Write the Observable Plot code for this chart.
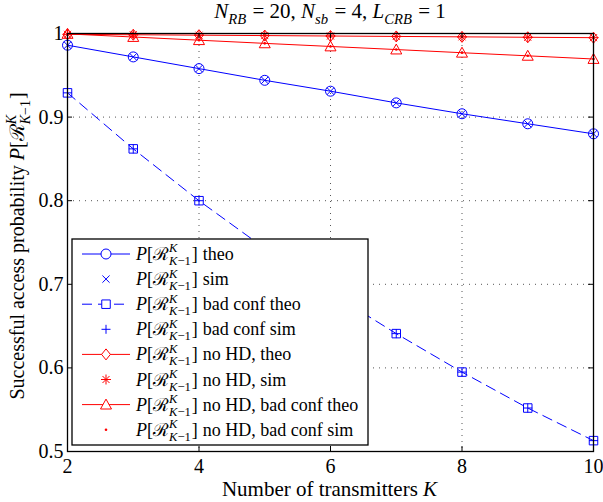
<!DOCTYPE html>
<html><head><meta charset="utf-8">
<script src="https://cdn.jsdelivr.net/npm/d3@7"></script>
<script src="https://cdn.jsdelivr.net/npm/@observablehq/plot@0.6"></script>
<style>
html,body{margin:0;padding:0;background:#fff;}
#chart{position:relative;width:603px;height:502px;overflow:hidden;}
</style></head><body><div id="chart"></div>
<script>
// ---- data ----
const K = [2, 3, 4, 5, 6, 7, 8, 9, 10];
const theo        = [0.986, 0.972, 0.958, 0.944, 0.931, 0.917, 0.904, 0.892, 0.880];
const sim         = [0.986, 0.972, 0.958, 0.944, 0.931, 0.917, 0.904, 0.892, 0.880];
const badTheo     = [0.929, 0.862, 0.800, 0.743, 0.690, 0.641, 0.595, 0.552, 0.513];
const badSim      = [0.929, 0.862, 0.800, 0.743, 0.690, 0.641, 0.595, 0.552, 0.513];
const noHdTheo    = [0.999, 0.9985, 0.998, 0.9975, 0.997, 0.9965, 0.996, 0.9955, 0.995];
const noHdSim     = [0.999, 0.9985, 0.998, 0.9975, 0.997, 0.9965, 0.996, 0.9955, 0.995];
const noHdBadTheo = [0.9995, 0.9958, 0.992, 0.9882, 0.9845, 0.9808, 0.977, 0.9733, 0.9695];
const noHdBadSim  = [0.9995, 0.9958, 0.992, 0.9882, 0.9845, 0.9808, 0.977, 0.9733, 0.9695];
const legendLabels = ["theo", "sim", "bad conf theo", "bad conf sim", "no HD, theo", "no HD, sim", "no HD, bad conf theo", "no HD, bad conf sim"];
const xTicks = [2, 4, 6, 8, 10];
const yTicks = [0.5, 0.6, 0.7, 0.8, 0.9, 1];
const xGrid = [4, 6, 8];
const yGrid = [0.6, 0.7, 0.8, 0.9];

// ---- styling ----
const FONT = "'Liberation Serif', 'Times New Roman', serif";
const BLUE = "#0000ff", RED = "#ff0000";
const W = 603, H = 502, ML = 67, MR = 10, MT = 33, MB = 51;
const innerW = W - ML - MR, innerH = H - MT - MB;

function sym(fn) { return {draw(ctx, size) { const r = Math.sqrt(size / Math.PI); fn(ctx, r); }}; }
const symCircle = sym((c, r) => { c.moveTo(r, 0); c.arc(0, 0, r, 0, 2 * Math.PI); });
const symTimes = sym((c, r) => { const a = r * 0.72; c.moveTo(-a, -a); c.lineTo(a, a); c.moveTo(-a, a); c.lineTo(a, -a); });
const symSquare = sym((c, r) => { const a = r * 0.85; c.moveTo(-a, -a); c.lineTo(a, -a); c.lineTo(a, a); c.lineTo(-a, a); c.closePath(); });
const symPlus = sym((c, r) => { const a = r * 0.9; c.moveTo(-a, 0); c.lineTo(a, 0); c.moveTo(0, -a); c.lineTo(0, a); });
const symDiamond = sym((c, r) => { c.moveTo(0, -r); c.lineTo(r * 0.8, 0); c.lineTo(0, r); c.lineTo(-r * 0.8, 0); c.closePath(); });
const symAst = sym((c, r) => { const a = r * 0.7; c.moveTo(-r, 0); c.lineTo(r, 0); c.moveTo(0, -r); c.lineTo(0, r); c.moveTo(-a, -a); c.lineTo(a, a); c.moveTo(-a, a); c.lineTo(a, -a); });
const symTri = sym((c, r) => { c.moveTo(0, -r); c.lineTo(r, r * 0.8); c.lineTo(-r, r * 0.8); c.closePath(); });

const series = [
  {values: theo,        stroke: BLUE, line: true,  dash: null,   symbol: symCircle,  r: 5},
  {values: sim,         stroke: BLUE, line: false,               symbol: symTimes,   r: 5},
  {values: badTheo,     stroke: BLUE, line: true,  dash: "10,6", symbol: symSquare,  r: 5},
  {values: badSim,      stroke: BLUE, line: false,               symbol: symPlus,    r: 5},
  {values: noHdTheo,    stroke: RED,  line: true,  dash: null,   symbol: symDiamond, r: 5.5},
  {values: noHdSim,     stroke: RED,  line: false,               symbol: symAst,     r: 5},
  {values: noHdBadTheo, stroke: RED,  line: true,  dash: null,   symbol: symTri,     r: 5.5},
  {values: noHdBadSim,  stroke: RED,  line: false,               symbol: symCircle,  r: 1.3, filled: true}
];
series.forEach((s, i) => { s.label = legendLabels[i]; s.rows = K.map((k, j) => ({k, y: s.values[j]})); });

const marks = [
  Plot.ruleX(xGrid, {x: d => d, stroke: "#555", strokeDasharray: "1,5"}),
  Plot.ruleY(yGrid, {y: d => d, stroke: "#555", strokeDasharray: "1,5"}),
];
for (const s of series) if (s.line)
  marks.push(Plot.line(s.rows, {x: "k", y: "y", stroke: s.stroke, strokeWidth: 1, strokeDasharray: s.dash}));
for (const s of series)
  marks.push(Plot.dot(s.rows, {x: "k", y: "y", symbol: s.symbol, r: s.r,
    stroke: s.filled ? "none" : s.stroke, fill: s.filled ? s.stroke : "none", strokeWidth: 1}));
marks.push(
  Plot.tickX(xTicks, {x: d => d, insetTop: innerH - 5, stroke: "black"}),
  Plot.tickX(xTicks, {x: d => d, insetBottom: innerH - 5, stroke: "black"}),
  Plot.tickY(yTicks, {y: d => d, insetRight: innerW - 5, stroke: "black"}),
  Plot.tickY(yTicks, {y: d => d, insetLeft: innerW - 5, stroke: "black"}),
  Plot.frame({stroke: "black", strokeWidth: 1.3}),
  Plot.axisX({ticks: xTicks, tickSize: 0, tickPadding: 7, fontSize: 20, tickFormat: d => String(d), label: null}),
  Plot.axisY({ticks: yTicks, tickSize: 0, tickPadding: 4, fontSize: 20, tickFormat: d => d === 1 ? "1" : d.toFixed(1), label: null})
);

const chart = Plot.plot({
  width: W, height: H, marginLeft: ML, marginRight: MR, marginTop: MT, marginBottom: MB,
  x: {domain: [2, 10], label: null},
  y: {domain: [0.5, 1], label: null},
  style: {fontFamily: FONT, background: "white", color: "black"},
  marks
});
document.getElementById("chart").appendChild(chart);

// ---- rich text helper: one <text> per label, math parts as tspans ----
const svg = d3.select(chart);
function measure(g, str, size, italic) {
  const t = g.append("text").attr("font-size", size).attr("font-family", FONT)
    .attr("text-anchor", "start").style("white-space", "pre");
  if (italic) t.attr("font-style", "italic");
  t.text(str);
  const w = t.node().getComputedTextLength();
  t.remove();
  return w;
}
function mt(g, x, y, toks, fs) {
  const text = g.append("text").attr("x", x).attr("y", y).attr("font-size", fs)
    .attr("font-family", FONT).attr("fill", "black").attr("text-anchor", "start")
    .style("white-space", "pre");
  let shift = 0, pendingDx = 0;
  const span = (str, size, italic, target, dx) => {
    const ts = text.append("tspan").attr("font-size", size).text(str);
    if (italic) ts.attr("font-style", "italic");
    const dy = target - shift;
    if (dy) ts.attr("dy", dy);
    shift = target;
    const d = (dx || 0) + pendingDx;
    if (d) ts.attr("dx", d);
    pendingDx = 0;
  };
  for (const tk of toks) {
    if (tk.gap) { pendingDx += tk.gap; continue; }
    if (tk.sup != null || tk.sub != null) {
      const ss = fs * 0.7;
      const w1 = tk.sup != null ? measure(g, tk.sup, ss, true) : 0;
      let w2 = 0;
      if (tk.sub) for (const [s, it] of tk.sub) w2 += measure(g, s, ss, it);
      if (tk.sup != null) span(tk.sup, ss, true, -fs * 0.42);
      if (tk.sub) tk.sub.forEach(([s, it], i) => span(s, ss, it, fs * 0.28, i === 0 && tk.sup != null ? -w1 : 0));
      pendingDx += (tk.sub ? Math.max(w1 - w2, 0) : 0) + 1;
    } else span(tk.t, fs, tk.it, 0);
  }
  const bb = text.node().getBBox();
  return bb.x + bb.width - x;
}
const Ptoks = [{t: "P", it: true}, {t: "["}, {t: "ℛ"}, {sup: "K", sub: [["K", true], ["−1", false]]}, {t: "]"}];

// title
const tg = svg.append("g");
const tw = mt(tg, 0, 0, [
  {t: "N", it: true}, {sub: [["RB", true]]}, {t: " = 20, "},
  {t: "N", it: true}, {sub: [["sb", true]]}, {t: " = 4, "},
  {t: "L", it: true}, {sub: [["CRB", true]]}, {t: " = 1"}], 21);
tg.attr("transform", `translate(${ML + innerW / 2 - tw / 2},18)`);

// x label
const xg = svg.append("g");
const xw = mt(xg, 0, 0, [{t: "Number of transmitters "}, {t: "K", it: true}], 21);
xg.attr("transform", `translate(${ML + innerW / 2 - xw / 2},496)`);

// y label
const yo = svg.append("g").attr("transform", `translate(24,${MT + innerH / 2 + 4}) rotate(-90)`);
const yi = yo.append("g");
const yw = mt(yi, 0, 0, [{t: "Successful access probability "}, ...Ptoks], 20);
yi.attr("transform", `translate(${-yw / 2},0)`);

// legend
const lg = svg.append("g");
lg.append("rect").attr("x", 72).attr("y", 239).attr("width", 296).attr("height", 206)
  .attr("fill", "white").attr("stroke", "black").attr("stroke-width", 1.3);
series.forEach((s, i) => {
  const cy = 254 + i * 25.1;
  if (s.line) lg.append("line").attr("x1", 82).attr("x2", 130).attr("y1", cy).attr("y2", cy)
    .attr("stroke", s.stroke).attr("stroke-dasharray", s.dash);
  lg.append("path").attr("transform", `translate(106,${cy})`)
    .attr("d", d3.symbol(s.symbol, Math.PI * s.r * s.r)())
    .attr("fill", s.filled ? s.stroke : "white").attr("stroke", s.filled ? "none" : s.stroke);
  mt(lg, 136, cy + 6, [...Ptoks, {gap: 5}, {t: s.label}], 18);
});
</script></body></html>
